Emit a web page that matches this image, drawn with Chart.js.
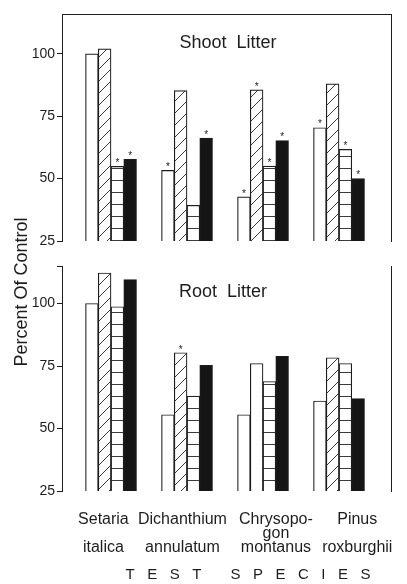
<!DOCTYPE html>
<html>
<head>
<meta charset="utf-8">
<script src="https://cdn.jsdelivr.net/npm/chart.js@4.4.0/dist/chart.umd.min.js"></script>
<style>
  html, body { margin: 0; padding: 0; background: #fff; }
  #wrap { position: relative; width: 407px; height: 584px; }
  #wrap canvas { position: absolute; left: 0; top: 0; }
</style>
</head>
<body>
<div id="wrap">
  <canvas id="shoot" width="407" height="584"></canvas>
  <canvas id="root" width="407" height="584"></canvas>
</div>
<script>
// test species (x categories) and y tick labels
const species = [
  ['Setaria', '', 'italica'],
  ['Dichanthium', '', 'annulatum'],
  ['Chrysopo-', 'gon', 'montanus'],
  ['Pinus', '', 'roxburghii']
];
const yTickValues = [25, 50, 75, 100];
const seriesNames = ['I', 'II', 'III', 'IV'];

// shoot litter, percent of control
const shootOpen = [100, 53.3, 42.7, 70.4];
const shootDiagonal = [102, 85.3, 85.6, 88];
const shootLined = [54.9, 39.3, 55, 61.7];
const shootSolid = [57.7, 66.3, 65.3, 50];

// root litter, percent of control
const rootOpen = [100, 55.5, 55.5, 61];
const rootDiagonal = [112.2, 80.3, 76, 78.3];
const rootLined = [98.7, 63, 68.8, 76];
const rootSolid = [109.6, 75.3, 78.9, 62];

// bars with an asterisk (one row per series)
const shootStarred = [[0, 1, 1, 1], [0, 0, 1, 0], [1, 0, 1, 1], [1, 1, 1, 1]];
const rootStarred = [[0, 0, 0, 0], [0, 1, 0, 0], [0, 0, 0, 0], [0, 0, 0, 0]];

// label placement tweak, in category units
const labelNudge = [-0.1, -0.06, 0.17, 0.24];

const ink = '#1d1d1d';
const font = '"Liberation Sans", Arial, sans-serif';
Chart.defaults.font.family = font;
Chart.defaults.color = ink;

const hatch = (draw) => {
  const tile = document.createElement('canvas');
  tile.width = 12;
  tile.height = 12;
  const g = tile.getContext('2d');
  g.fillStyle = '#fff';
  g.fillRect(0, 0, 12, 12);
  g.strokeStyle = '#3a3a3a';
  g.lineWidth = 1;
  g.beginPath();
  draw(g);
  g.stroke();
  return g.createPattern(tile, 'repeat');
};
const diagonal = hatch(g => { g.moveTo(-1, 13); g.lineTo(13, -1); });
const lined = hatch(g => { g.moveTo(0, 0.5); g.lineTo(12, 0.5); });

const bars = (series, fills) => series.map((vals, k) => ({
  label: seriesNames[k],
  data: vals.map((v, i) => ({ x: i + 1, y: v })),
  backgroundColor: fills[k],
  borderColor: ink,
  borderWidth: 1.2,
  borderSkipped: false,
  barThickness: 12.75,
  xAxisID: 'x',
  yAxisID: 'y'
}));

// asterisks above significant bars
const starPlugin = {
  id: 'stars',
  afterDatasetsDraw(chart, args, opts) {
    const ctx = chart.ctx;
    ctx.save();
    ctx.fillStyle = ink;
    ctx.font = '10px ' + font;
    ctx.textAlign = 'center';
    ctx.textBaseline = 'bottom';
    opts.marks.forEach((row, d) => {
      const meta = chart.getDatasetMeta(d);
      row.forEach((m, i) => {
        if (m) ctx.fillText('*', meta.data[i].x, meta.data[i].y + 2);
      });
    });
    ctx.restore();
  }
};

// free text: panel names and axis captions
const notesPlugin = {
  id: 'notes',
  afterDraw(chart, args, opts) {
    const ctx = chart.ctx;
    opts.items.forEach(it => {
      ctx.save();
      ctx.fillStyle = ink;
      ctx.font = it.font;
      ctx.textAlign = 'center';
      ctx.textBaseline = 'middle';
      ctx.translate(it.x, it.y);
      if (it.rotate) ctx.rotate(it.rotate);
      ctx.fillText(it.text, 0, 0);
      ctx.restore();
    });
  }
};

const scalesFor = (yMax, bounds, showX) => ({
  x: {
    type: 'linear',
    min: 0.355,
    max: 4.684,
    offset: false,
    display: showX,
    afterBuildTicks: s => { s.ticks = species.map((_, i) => ({ value: i + 1 + labelNudge[i] })); },
    afterFit: s => {
      if (!showX) return;
      s.height = 93;
      s.paddingLeft = 0;
      s.paddingRight = 0;
    },
    ticks: {
      callback: (v, i) => species[i],
      autoSkip: false,
      maxRotation: 0,
      minRotation: 0,
      padding: 14,
      color: ink,
      font: { size: 16, lineHeight: '14px' }
    },
    grid: { display: false, offset: false },
    border: { display: false }
  },
  y: {
    min: 25,
    max: yMax,
    afterFit: s => { s.width = 62; },
    ticks: {
      stepSize: 25,
      includeBounds: bounds,
      padding: 2,
      color: ink,
      font: { size: 14 },
      callback: v => yTickValues.includes(v) ? v : ''
    },
    grid: { drawOnChartArea: false, drawTicks: true, tickLength: 5, color: ink },
    border: { display: true, color: ink, width: 1 }
  },
  yRight: {
    position: 'right',
    afterFit: s => { s.width = 16; },
    ticks: { display: false },
    grid: { drawOnChartArea: false, drawTicks: false },
    border: { display: true, color: ink, width: 1 }
  }
});

const shootScales = scalesFor(116, false, false);
shootScales.xTop = {
  type: 'linear',
  position: 'top',
  afterFit: s => { s.height = 14; },
  ticks: { display: false },
  grid: { drawOnChartArea: false, drawTicks: false },
  border: { display: true, color: ink, width: 1 }
};

new Chart(document.getElementById('shoot'), {
  type: 'bar',
  data: {
    datasets: bars([shootOpen, shootDiagonal, shootLined, shootSolid], ['#fff', diagonal, lined, '#151515'])
  },
  options: {
    responsive: false,
    animation: false,
    layout: { padding: { bottom: 343 } },
    scales: shootScales,
    plugins: {
      legend: { display: false },
      tooltip: { enabled: false },
      stars: { marks: shootStarred },
      notes: { items: [{ text: 'Shoot  Litter', x: 228, y: 43, font: '18px ' + font }] }
    }
  },
  plugins: [starPlugin, notesPlugin]
});

new Chart(document.getElementById('root'), {
  type: 'bar',
  data: {
    datasets: bars([rootOpen, rootDiagonal, rootLined, rootSolid],
      ['#fff', [diagonal, diagonal, '#fff', diagonal], lined, '#151515'])
  },
  options: {
    responsive: false,
    animation: false,
    layout: { padding: { top: 266 } },
    scales: scalesFor(115, true, true),
    plugins: {
      legend: { display: false },
      tooltip: { enabled: false },
      stars: { marks: rootStarred },
      notes: {
        items: [
          { text: 'Root  Litter', x: 223, y: 292, font: '18px ' + font },
          { text: 'Percent Of Control', x: 22, y: 292, rotate: -Math.PI / 2, font: '18px ' + font },
          { text: 'T   E   S   T       S   P   E   C   I   E   S', x: 248, y: 575, font: '15px ' + font }
        ]
      }
    }
  },
  plugins: [starPlugin, notesPlugin]
});
</script>
</body>
</html>
